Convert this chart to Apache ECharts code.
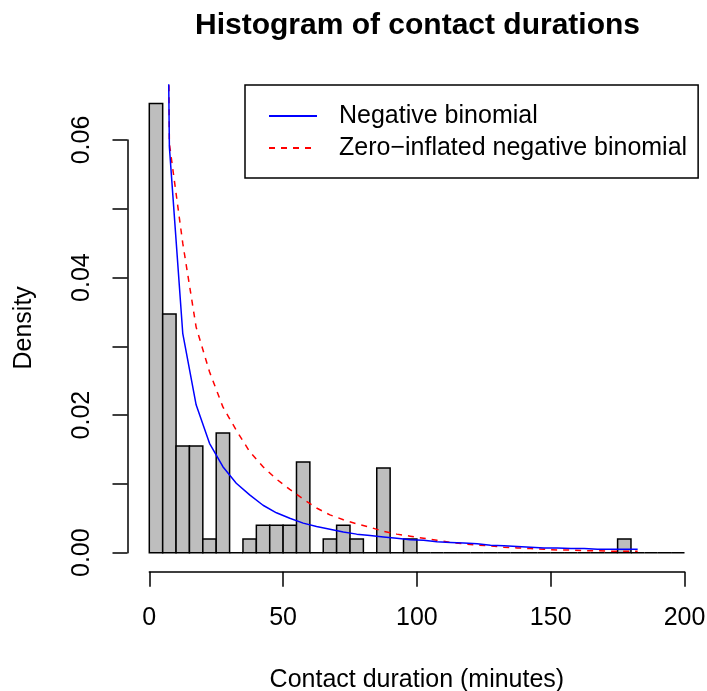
<!DOCTYPE html>
<html>
<head>
<meta charset="utf-8">
<script src="https://cdn.jsdelivr.net/npm/echarts@6/dist/echarts.min.js"></script>
<style>
html,body{margin:0;padding:0;background:#fff;}
#chart{width:707px;height:691px;}
</style>
</head>
<body>
<div id="chart"></div>
<script>
// ---- data ----
const chartTitle = 'Histogram of contact durations';
const xAxisTitle = 'Contact duration (minutes)';
const yAxisTitle = 'Density';
const seriesNames = ['Negative binomial', 'Zero\u2212inflated negative binomial'];

const binStarts = [0,5,10,15,20,25,30,35,40,45,50,55,60,65,70,75,80,85,90,95,
                   100,105,110,115,120,125,130,135,140,145,150,155,160,165,170,175,180,185,190,195];
const binWidth = 5;
const binDensity = [0.0653,0.0347,0.0155,0.0155,0.0020,0.0174,0,0.0020,0.0040,0.0040,
                    0.0040,0.0132,0,0.0020,0.0040,0.0020,0,0.0123,0,0.0020,
                    0,0,0,0,0,0,0,0,0,0,
                    0,0,0,0,0,0.0020,0,0,0,0];

const curveX = [2.5,7.5,12.5,17.5,22.5,27.5,32.5,37.5,42.5,47.5,52.5,57.5,62.5,67.5,72.5,77.5,
                82.5,87.5,92.5,97.5,102.5,107.5,112.5,117.5,122.5,127.5,132.5,137.5,142.5,147.5,
                152.5,157.5,162.5,167.5,172.5,177.5,182.5];
const nbDensity = [0.25,0.059,0.0319,0.0215,0.0159,0.0125,0.0101,0.0084,0.0069,0.0058,
                   0.0050,0.0043,0.0038,0.0034,0.0030,0.0027,0.0025,0.0023,0.0021,0.0019,
                   0.0018,0.0016,0.0015,0.0014,0.0013,0.0011,0.0010,0.0009,0.0008,0.0007,
                   0.0007,0.0006,0.0006,0.0005,0.0005,0.0005,0.0005];
const zinbDensity = [0.3,0.0595,0.0450,0.0328,0.0263,0.0212,0.0178,0.0147,0.0125,0.0107,
                     0.0092,0.0078,0.0065,0.0055,0.0048,0.0042,0.0037,0.0031,0.0027,0.0024,
                     0.0021,0.0018,0.0015,0.0013,0.0011,0.0010,0.0008,0.0007,0.0006,0.0005,
                     0.0004,0.0004,0.0003,0.0003,0.0002,0.0002,0.0002];

const xMin = 0, xMax = 200, xStep = 50;
const yTickMin = 0, yTickMax = 0.06, yTickStep = 0.01;
const yViewMax = 0.068;

// ---- chart ----
const FONT = "'Liberation Sans', Arial, Helvetica, sans-serif";
const chart = echarts.init(document.getElementById('chart'), null, {renderer: 'canvas'});

const histData = binStarts.map((s, i) => [s, s + binWidth, binDensity[i]]);
const nbData = curveX.map((x, i) => [x, nbDensity[i]]);
const zinbData = curveX.map((x, i) => [x, zinbDensity[i]]);

const option = {
  animation: false,
  backgroundColor: '#ffffff',
  textStyle: {fontFamily: FONT},
  title: {
    text: chartTitle,
    left: 195, top: 11, padding: 0,
    textStyle: {fontFamily: FONT, fontSize: 30, fontWeight: 'bold', color: '#000'}
  },
  legend: {
    orient: 'vertical', align: 'left',
    left: 245, top: 85,
    padding: [18.5, 11, 17.5, 23],
    itemGap: 7, itemWidth: 48, itemHeight: 14,
    borderColor: '#000', borderWidth: 1.5, borderRadius: 0,
    backgroundColor: '#fff',
    selectedMode: false,
    itemStyle: {opacity: 0},
    textStyle: {fontFamily: FONT, fontSize: 25, color: '#000', padding: [0, 0, 0, 17]},
    data: seriesNames
  },
  grid: [
    {left: 149.3, right: 22.5, top: 85, bottom: 138.3, outerBoundsMode: 'none', containLabel: false},
    {left: 127.5, right: 22.5, top: 140, bottom: 138.3, outerBoundsMode: 'none', containLabel: false},
    {left: 149.3, right: 22.5, top: 85, bottom: 120.3, outerBoundsMode: 'none', containLabel: false}
  ],
  xAxis: [
    {
      gridIndex: 0, type: 'value', min: xMin, max: xMax, interval: xStep,
      offset: 19,
      axisLine: {show: true, onZero: false, lineStyle: {color: '#000', width: 1.5}},
      axisTick: {show: true, length: 15, lineStyle: {color: '#000', width: 1.5}},
      axisLabel: {show: true, fontFamily: FONT, fontSize: 25, color: '#000', margin: 34},
      splitLine: {show: false},
      name: xAxisTitle, nameLocation: 'middle', nameGap: 96,
      nameTextStyle: {fontFamily: FONT, fontSize: 25, color: '#000'}
    },
    {gridIndex: 1, type: 'value', min: xMin, max: xMax, show: false},
    {gridIndex: 2, type: 'value', min: xMin, max: xMax, show: false}
  ],
  yAxis: [
    {
      gridIndex: 0, type: 'value', min: 0, max: yViewMax, show: false
    },
    {
      gridIndex: 1, type: 'value', min: yTickMin, max: yTickMax, interval: yTickStep,
      axisLine: {show: true, onZero: false, lineStyle: {color: '#000', width: 1.5}},
      axisTick: {show: true, length: 15, lineStyle: {color: '#000', width: 1.5}},
      axisLabel: {
        show: true, rotate: 90, margin: 33, fontFamily: FONT, fontSize: 25, color: '#000',
        formatter: v => (Math.round(v * 100) % 2 === 0 ? v.toFixed(2) : '')
      },
      splitLine: {show: false}
    },
    {
      gridIndex: 2, type: 'value', min: 0, max: 1,
      axisLine: {show: false}, axisTick: {show: false}, axisLabel: {show: false},
      splitLine: {show: false},
      name: yAxisTitle, nameLocation: 'middle', nameGap: 113, nameRotate: 90,
      nameTextStyle: {fontFamily: FONT, fontSize: 25, color: '#000'}
    }
  ],
  series: [
    {
      type: 'custom', name: 'histogram', xAxisIndex: 0, yAxisIndex: 0,
      data: histData,
      clip: false,
      renderItem: function (params, api) {
        const p0 = api.coord([api.value(0), api.value(2)]);
        const p1 = api.coord([api.value(1), 0]);
        return {
          type: 'rect',
          shape: {x: p0[0], y: p0[1], width: p1[0] - p0[0], height: p1[1] - p0[1]},
          style: {fill: '#BEBEBE', stroke: '#000', lineWidth: 1.5}
        };
      },
      z: 1
    },
    {
      type: 'line', name: seriesNames[0], xAxisIndex: 0, yAxisIndex: 0,
      data: nbData, symbol: 'none', showSymbol: false, clip: true,
      lineStyle: {color: '#0000FF', width: 1.5},
      itemStyle: {color: '#0000FF'},
      z: 3
    },
    {
      type: 'line', name: seriesNames[1], xAxisIndex: 0, yAxisIndex: 0,
      data: zinbData, symbol: 'none', showSymbol: false, clip: true,
      lineStyle: {color: '#FF0000', width: 1.5, type: [6, 6]},
      itemStyle: {color: '#FF0000'},
      z: 2
    }
  ]
};
chart.setOption(option);
</script>
</body>
</html>
